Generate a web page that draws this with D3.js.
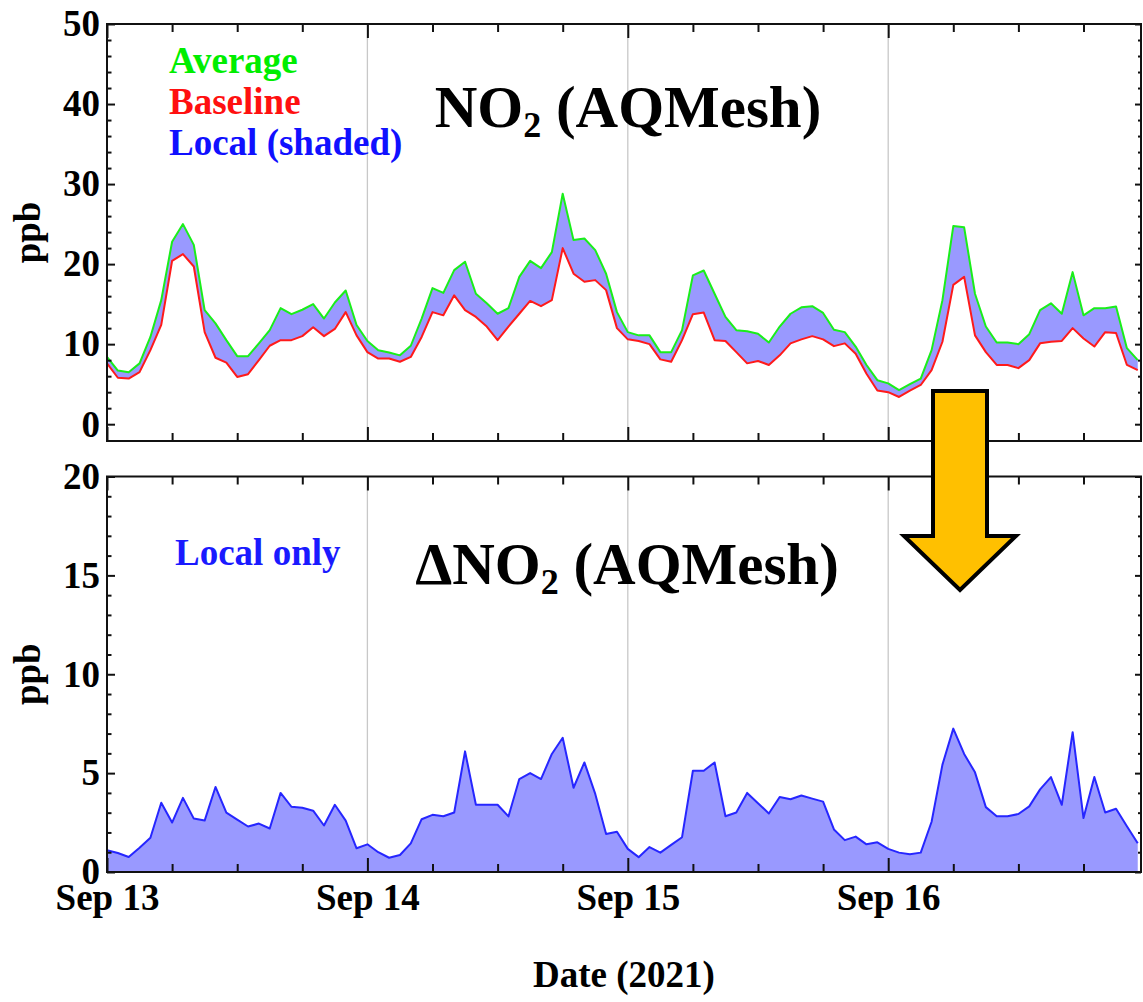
<!DOCTYPE html>
<html>
<head>
<meta charset="utf-8">
<script src="https://cdn.jsdelivr.net/npm/d3@7"></script>
<style>
    body { margin: 0; background: #fff; }
    svg text {
        font-family: "Liberation Serif", "Times New Roman", serif;
        font-weight: bold;
    }
    .tick text { font-size: 37px; fill: #000; }
    .axis-label { font-size: 37px; fill: #000; }
    .legend { font-size: 37px; }
    .title { font-size: 59px; fill: #000; }
</style>
</head>
<body>
<svg id="chart" width="1143" height="1002"></svg>
<script>
// hourly values, Sep 13 00:00 -> Sep 16 23:00 (2021), ppb
const average = [
    8.4, 6.7, 6.5, 7.6, 10.9, 15.5, 22.8, 25.0, 22.4, 14.25, 12.6, 10.5,
    8.5, 8.5, 10.1, 11.75, 14.5, 13.75, 14.3, 15.0, 13.2, 15.2, 16.7, 12.4,
    10.4, 9.25, 8.96, 8.6, 9.8, 13.2, 17.0, 16.4, 19.25, 20.3, 16.3, 15.1,
    13.8, 14.5, 18.4, 20.4, 19.5, 21.5, 28.8, 23.0, 23.2, 21.75, 18.8, 14.0,
    11.5, 11.1, 11.1, 9.0, 9.0, 11.75, 18.6, 19.2, 16.3, 13.4, 11.75, 11.6,
    11.3, 10.2, 12.2, 13.8, 14.6, 14.75, 13.9, 11.8, 11.5, 9.7, 7.4, 5.5,
    5.1, 4.25, 5.0, 5.7, 9.25, 15.5, 24.75, 24.6, 16.3, 12.2, 10.2, 10.2,
    10.0, 11.25, 14.25, 15.1, 13.8, 19.0, 13.6, 14.5, 14.5, 14.7, 9.5, 8.0
];
const baseline = [
    7.6, 5.8, 5.7, 6.5, 9.25, 12.4, 20.4, 21.25, 19.7, 11.5, 8.3, 7.7,
    5.9, 6.25, 8.0, 9.8, 10.5, 10.5, 11.0, 12.1, 11.0, 11.9, 14.0, 11.1,
    9.0, 8.2, 8.2, 7.8, 8.4, 10.9, 14.0, 13.6, 16.1, 14.25, 13.4, 12.2,
    10.5, 12.2, 13.8, 15.4, 14.75, 15.5, 22.0, 18.8, 17.8, 18.0, 16.75, 12.0,
    10.6, 10.4, 10.0, 8.1, 7.8, 10.5, 13.75, 13.95, 10.5, 10.4, 9.0, 7.6,
    7.9, 7.4, 8.6, 10.1, 10.6, 11.0, 10.6, 9.75, 10.1, 8.8, 6.3, 4.2,
    4.0, 3.4, 4.2, 4.9, 6.75, 10.3, 17.4, 18.4, 11.1, 9.0, 7.4, 7.4,
    7.0, 8.0, 10.1, 10.3, 10.4, 12.0, 10.7, 9.7, 11.5, 11.4, 7.4, 6.75
];
const local = [
    1.1, 0.96, 0.76, 1.23, 1.73, 3.5, 2.5, 3.75, 2.7, 2.6, 4.3, 3.0,
    2.65, 2.3, 2.45, 2.2, 4.0, 3.3, 3.25, 3.1, 2.35, 3.4, 2.6, 1.2,
    1.4, 1.0, 0.72, 0.86, 1.45, 2.67, 2.89, 2.82, 3.01, 6.1, 3.4, 3.4,
    3.4, 2.81, 4.7, 5.0, 4.7, 5.97, 6.79, 4.26, 5.54, 3.95, 1.92, 2.04,
    1.17, 0.75, 1.26, 0.98, 1.37, 1.76, 5.12, 5.12, 5.54, 2.82, 3.01, 4.0,
    3.48, 2.96, 3.79, 3.68, 3.87, 3.71, 3.56, 2.15, 1.61, 1.79, 1.40, 1.50,
    1.17, 0.98, 0.90, 0.98, 2.54, 5.43, 7.25, 5.97, 5.04, 3.28, 2.82, 2.82,
    2.93, 3.32, 4.18, 4.80, 3.40, 7.07, 2.73, 4.80, 3.01, 3.20, 2.31, 1.45
];

const topTicks = [0, 10, 20, 30, 40, 50];
const bottomTicks = [0, 5, 10, 15, 20];
const legendLabels = ['Average', 'Baseline', 'Local (shaded)'];
const legendColors = ['#00ee00', '#ff1010', '#1010ff'];

const svg = d3.select('#chart');

// LAYOUT
const X0 = 107, X1 = 1141;
const TOP = { top: 24, bottom: 441 };
const BOT = { top: 476.5, bottom: 872 };

// X SCALE (time, hourly samples)
const start = new Date(2021, 8, 13);
const hours = average.map((d, i) => new Date(+start + i * 36e5));
const end = new Date(+start + 95.3 * 36e5);
const xScale = d3.scaleTime().domain([start, end]).range([X0, X1]);
const dayTicks = d3.timeDay.range(start, end);
const sixHourTicks = d3.timeHour.every(6).range(start, end).filter(d => d.getHours() !== 0);

// Y SCALES
const yTop = d3.scaleLinear().domain([-2.1, 50]).range([TOP.bottom, TOP.top]);
const yBot = d3.scaleLinear().domain([0, 20]).range([BOT.bottom, BOT.top]);

function gridlines(g, panel) {
    g.append('g')
        .selectAll('line')
        .data(dayTicks.slice(1))
        .enter()
        .append('line')
        .attr('x1', d => xScale(d)).attr('x2', d => xScale(d))
        .attr('y1', panel.top).attr('y2', panel.bottom)
        .attr('stroke', '#c8c8c8')
        .attr('stroke-width', 1.3);
}

function frame(g, panel, y, majors, minors, dateLabels) {
    const clean = s => s.select('.domain').remove();

    // left
    g.append('g').attr('transform', `translate(${X0},0)`)
        .call(d3.axisLeft(y).tickValues(majors).tickSize(-8).tickPadding(7).tickFormat(d3.format('d')))
        .call(clean);
    g.append('g').attr('transform', `translate(${X0},0)`)
        .call(d3.axisLeft(y).tickValues(minors).tickSize(-4.5).tickFormat(''))
        .call(clean);
    // right
    g.append('g').attr('transform', `translate(${X1},0)`)
        .call(d3.axisRight(y).tickValues(majors).tickSize(-6).tickFormat(''))
        .call(clean);
    g.append('g').attr('transform', `translate(${X1},0)`)
        .call(d3.axisRight(y).tickValues(minors).tickSize(-3).tickFormat(''))
        .call(clean);
    // top
    g.append('g').attr('transform', `translate(0,${panel.top})`)
        .call(d3.axisTop(xScale).tickValues(dayTicks).tickSize(-14).tickFormat(''))
        .call(clean);
    g.append('g').attr('transform', `translate(0,${panel.top})`)
        .call(d3.axisTop(xScale).tickValues(sixHourTicks).tickSize(-8).tickFormat(''))
        .call(clean);
    // bottom
    g.append('g').attr('transform', `translate(0,${panel.bottom})`)
        .call(d3.axisBottom(xScale).tickValues(dayTicks).tickSize(-14).tickPadding(12)
            .tickFormat(dateLabels ? d3.timeFormat('%b %d') : ''))
        .call(clean);
    g.append('g').attr('transform', `translate(0,${panel.bottom})`)
        .call(d3.axisBottom(xScale).tickValues(sixHourTicks).tickSize(-8).tickFormat(''))
        .call(clean);

    g.selectAll('.tick line').attr('stroke', '#111').attr('stroke-width', 2);
    g.selectAll('g').attr('font-size', null).attr('font-family', null);

    g.append('rect')
        .attr('x', X0).attr('y', panel.top)
        .attr('width', X1 - X0).attr('height', panel.bottom - panel.top)
        .attr('fill', 'none')
        .attr('stroke', '#111')
        .attr('stroke-width', 2);
}

///////////////////////////////////////////////////////
// TOP PANEL : average / baseline
///////////////////////////////////////////////////////
const gTop = svg.append('g');
gridlines(gTop, TOP);

gTop.append('path')
    .datum(hours)
    .attr('fill', '#9999ff')
    .attr('d', d3.area()
        .x(d => xScale(d))
        .y0((d, i) => yTop(baseline[i]))
        .y1((d, i) => yTop(average[i])));

gTop.append('path')
    .datum(baseline)
    .attr('fill', 'none')
    .attr('stroke', '#ff1a1a')
    .attr('stroke-width', 2)
    .attr('stroke-linejoin', 'round')
    .attr('d', d3.line().x((d, i) => xScale(hours[i])).y(d => yTop(d)));

gTop.append('path')
    .datum(average)
    .attr('fill', 'none')
    .attr('stroke', '#1aee1a')
    .attr('stroke-width', 2)
    .attr('stroke-linejoin', 'round')
    .attr('d', d3.line().x((d, i) => xScale(hours[i])).y(d => yTop(d)));

frame(gTop, TOP, yTop, topTicks, d3.range(2, 50, 2).filter(v => v % 10), false);

// legend
gTop.append('g')
    .selectAll('text')
    .data(legendLabels)
    .enter()
    .append('text')
    .attr('class', 'legend')
    .attr('x', 169)
    .attr('y', (d, i) => 73 + i * 41)
    .attr('fill', (d, i) => legendColors[i])
    .text(d => d);

// title
const t1 = gTop.append('text').attr('class', 'title')
    .attr('x', 628).attr('y', 127).attr('text-anchor', 'middle');
t1.append('tspan').text('NO');
t1.append('tspan').attr('font-size', '36px').attr('dy', 10).text('2');
t1.append('tspan').attr('dy', -10).text(' (AQMesh)');

// y label
gTop.append('text').attr('class', 'axis-label')
    .attr('transform', `translate(40,${(TOP.top + TOP.bottom) / 2}) rotate(-90)`)
    .attr('text-anchor', 'middle')
    .text('ppb');

///////////////////////////////////////////////////////
// BOTTOM PANEL : local only
///////////////////////////////////////////////////////
const gBot = svg.append('g');
gridlines(gBot, BOT);

gBot.append('path')
    .datum(local)
    .attr('fill', '#9999ff')
    .attr('d', d3.area()
        .x((d, i) => xScale(hours[i]))
        .y0(yBot(0))
        .y1(d => yBot(d)));

gBot.append('path')
    .datum(local)
    .attr('fill', 'none')
    .attr('stroke', '#2626ff')
    .attr('stroke-width', 2)
    .attr('stroke-linejoin', 'round')
    .attr('d', d3.line().x((d, i) => xScale(hours[i])).y(d => yBot(d)));

frame(gBot, BOT, yBot, bottomTicks, d3.range(1, 20).filter(v => v % 5), true);

gBot.append('text')
    .attr('class', 'legend')
    .attr('x', 175).attr('y', 565)
    .attr('fill', '#1a1aff')
    .text('Local only');

const t2 = gBot.append('text').attr('class', 'title')
    .attr('x', 627).attr('y', 584).attr('text-anchor', 'middle');
t2.append('tspan').text('\u0394NO');
t2.append('tspan').attr('font-size', '36px').attr('dy', 10).text('2');
t2.append('tspan').attr('dy', -10).text(' (AQMesh)');

gBot.append('text').attr('class', 'axis-label')
    .attr('transform', `translate(40,${(BOT.top + BOT.bottom) / 2}) rotate(-90)`)
    .attr('text-anchor', 'middle')
    .text('ppb');

svg.append('text').attr('class', 'axis-label')
    .attr('x', (X0 + X1) / 2).attr('y', 987)
    .attr('text-anchor', 'middle')
    .text('Date (2021)');

///////////////////////////////////////////////////////
// ARROW annotation
///////////////////////////////////////////////////////
const arrow = [[933, 391], [987, 391], [987, 536], [1016, 536], [960, 590],
               [904, 536], [933, 536]];
svg.append('polygon')
    .attr('points', arrow.map(p => p.join(',')).join(' '))
    .attr('fill', '#ffc000')
    .attr('stroke', '#000')
    .attr('stroke-width', 4)
    .attr('stroke-linejoin', 'miter');
</script>
</body>
</html>
